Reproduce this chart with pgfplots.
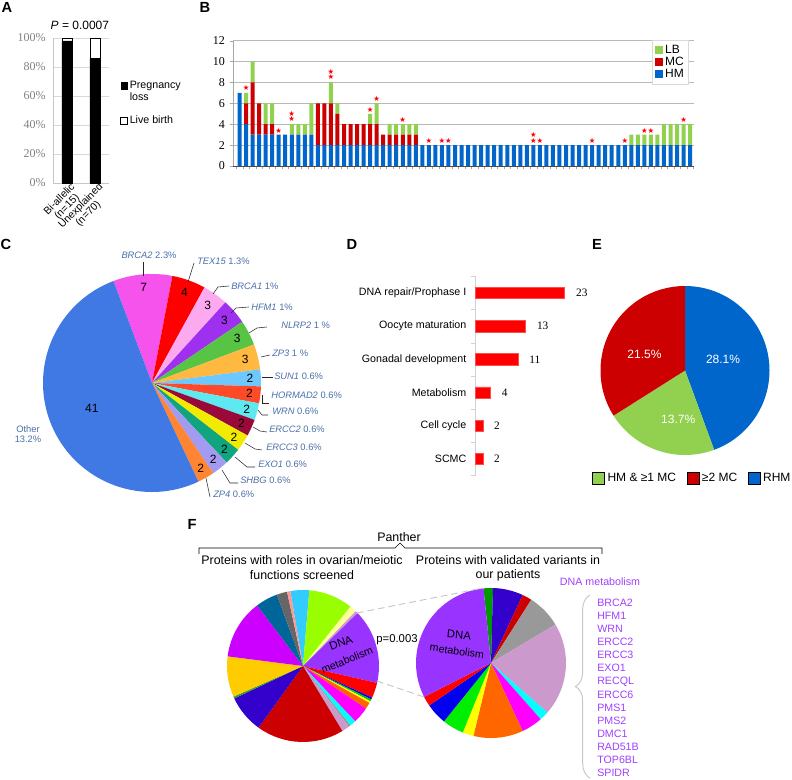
\documentclass[border=0pt]{standalone}
\usepackage{pgfplots}
\pgfplotsset{compat=1.18}
\usepackage{pgfplotstable}
\usepackage{fontspec}
\setmainfont{Liberation Sans}
\newfontfamily\tnr{Liberation Serif}
\newfontfamily\djv{DejaVu Sans}
\usetikzlibrary{decorations.pathreplacing}
\pgfplotsset{/pgf/number format/assume math mode=true}

\definecolor{hmB}{HTML}{0066CC}
\definecolor{mcB}{HTML}{CC0000}
\definecolor{lbB}{HTML}{92D050}
\definecolor{lblC}{HTML}{4A6FA8}
\definecolor{dnaP}{HTML}{A040FF}
% panel C slices
\definecolor{cBRCA2}{HTML}{F553EC}
\definecolor{cTEX15}{HTML}{FF0000}
\definecolor{cBRCA1}{HTML}{FCA9F0}
\definecolor{cHFM1}{HTML}{A030F0}
\definecolor{cNLRP2}{HTML}{58C445}
\definecolor{cZP3}{HTML}{FFB840}
\definecolor{cSUN1}{HTML}{6CC8FF}
\definecolor{cHORMAD2}{HTML}{FF4A2A}
\definecolor{cWRN}{HTML}{5EE8EF}
\definecolor{cERCC2}{HTML}{990A3A}
\definecolor{cERCC3}{HTML}{F0EB00}
\definecolor{cEXO1}{HTML}{10A57E}
\definecolor{cSHBG}{HTML}{A39AF2}
\definecolor{cZP4}{HTML}{FF8533}
\definecolor{cOther}{HTML}{4079E4}
% panel F slices
\definecolor{f01}{HTML}{33CCFF}
\definecolor{f02}{HTML}{99FF00}
\definecolor{f03}{HTML}{FFFF99}
\definecolor{f04}{HTML}{CC99CC}
\definecolor{f05}{HTML}{9933FF}
\definecolor{f06}{HTML}{FF0000}
\definecolor{f07}{HTML}{0000FF}
\definecolor{f08}{HTML}{00CC00}
\definecolor{f09}{HTML}{FFFF00}
\definecolor{f10}{HTML}{FF6600}
\definecolor{f11}{HTML}{FF00FF}
\definecolor{f12}{HTML}{00FFFF}
\definecolor{f13}{HTML}{999999}
\definecolor{f14}{HTML}{CC0000}
\definecolor{f15}{HTML}{3300CC}
\definecolor{f16}{HTML}{339933}
\definecolor{f17}{HTML}{FFCC00}
\definecolor{f18}{HTML}{CC00FF}
\definecolor{f19}{HTML}{006699}
\definecolor{f20}{HTML}{666666}
\definecolor{f21}{HTML}{FF9999}
\definecolor{f22}{HTML}{009900}
\definecolor{f23}{HTML}{00EE00}
\definecolor{f24}{HTML}{0000EE}

% pie wedges inside an axis: start angle, degrees per unit, radius (pt), list value/colour/label radius
\newcommand{\drawpie}[4]{%
  \xdef\pieang{#1}%
  \foreach \val/\col/\fac in {#4}{%
    \pgfmathsetmacro\pieend{\pieang-\val*#2}%
    \pgfmathsetmacro\piemid{(\pieang+\pieend)/2}%
    \pgfmathsetmacro\pielr{\fac*#3}%
    \edef\piecmd{\noexpand\fill[\col] (axis cs:0,0) -- ++(\pieang:#3pt) arc[start angle=\pieang, end angle=\pieend, radius=#3pt] -- cycle;}%
    \piecmd
    \ifdim\fac pt>0pt
      \edef\piecmd{\noexpand\path (axis cs:0,0) ++(\piemid:\pielr pt) node[pielbl] {\val};}%
      \piecmd
    \fi
    \xdef\pieang{\pieend}%
  }%
}

\pgfplotstableread{
x hm mc lb
1 7 0 0
2 4 2 1
3 3 5 2
4 3 3 0
5 3 1 2
6 3 1 2
7 3 0 0
8 3 0 0
9 3 0 1
10 3 0 1
11 3 0 1
12 3 0 3
13 2 4 0
14 2 4 0
15 2 4 2
16 2 3 1
17 2 2 0
18 2 2 0
19 2 2 0
20 2 2 0
21 2 2 1
22 2 2 2
23 2 1 0
24 2 1 1
25 2 1 1
26 2 1 1
27 2 1 1
28 2 1 1
29 2 0 0
30 2 0 0
31 2 0 0
32 2 0 0
33 2 0 0
34 2 0 0
35 2 0 0
36 2 0 0
37 2 0 0
38 2 0 0
39 2 0 0
40 2 0 0
41 2 0 0
42 2 0 0
43 2 0 0
44 2 0 0
45 2 0 0
46 2 0 0
47 2 0 0
48 2 0 0
49 2 0 0
50 2 0 0
51 2 0 0
52 2 0 0
53 2 0 0
54 2 0 0
55 2 0 0
56 2 0 0
57 2 0 0
58 2 0 0
59 2 0 0
60 2 0 0
61 2 0 1
62 2 0 1
63 2 0 1
64 2 0 1
65 2 0 1
66 2 0 2
67 2 0 2
68 2 0 2
69 2 0 2
70 2 0 2
}\dataB

\begin{document}
\begin{tikzpicture}
\useasboundingbox (0pt,0pt) rectangle (594pt,585pt);

% ---------------- A
\begin{axis}[at={(39.75pt,447.75pt)}, anchor=south west, scale only axis,
  width=42pt, height=108.75pt, ybar stacked, bar width=7.5pt,
  xmin=-0.5, xmax=1.5, ymin=0, ymax=100, clip=false,
  axis x line*=bottom, axis y line*=left, axis line style={draw=gray!45},
  ytick={0,20,...,100}, yticklabel={\pgfmathprintnumber{\tick}\%},
  yticklabel style={font=\tnr\fontsize{9}{10}\selectfont, text=gray, xshift=-2pt},
  ymajorgrids, grid style={draw=gray!30}, major tick length=0pt,
  xtick={0,1}, xticklabels={{Bi-allelic\\(n=15)},{Unexplained\\(n=70)}},
  xticklabel style={font=\fontsize{7.8}{8}\selectfont, rotate=45, anchor=north east, align=center, inner sep=1pt, xshift=3pt},
  title={\textit{P} = 0.0007}, title style={at={(0.48,1)}, anchor=south, font=\fontsize{9}{10}\selectfont, yshift=-3pt},
  legend style={at={(1.2,0.72)}, anchor=north west, draw=none, fill=none, font=\fontsize{8}{9.5}\selectfont, row sep=7pt, inner sep=0pt, nodes={align=left, inner sep=1.5pt}},
  legend cell align=left,
  legend image code/.code={\draw[#1, draw=black, line width=0.5pt] (0pt,-2.5pt) rectangle (5pt,2.5pt);}]
\addplot[fill=black, draw=black,
  legend image code/.code={\path (0pt,-7.25pt); \draw[fill=black] (0pt,2.25pt) rectangle (5pt,7.25pt);}]
  coordinates {(0,98) (1,85.7)};
\addplot[fill=white, draw=black] coordinates {(0,2) (1,14.3)};
\legend{Pregnancy\\loss, Live birth}
\end{axis}

% ---------------- B
\begin{axis}[at={(174.75pt,460.5pt)}, anchor=south west, scale only axis,
  width=345.75pt, height=94pt, ybar stacked, bar width=3pt,
  xmin=0, xmax=70.6, ymin=0, ymax=12, ytick={0,2,...,12},
  axis x line*=bottom, axis y line*=left,
  x axis line style={draw=black!70}, y axis line style={draw=gray!70},
  ymajorgrids, grid style={draw=gray!55},
  xtick={0.5,1.5,...,70.5}, xticklabels={},
  tick align=outside, major tick length=2.5pt, tick style={draw=gray!70},
  yticklabel style={font=\tnr\fontsize{9}{10}\selectfont},
  legend style={at={(0.989,1.005)}, anchor=north east, draw=gray!30, fill=white,
    font=\fontsize{9}{9}\selectfont, inner sep=2pt, row sep=-2pt, nodes={inner sep=1.6pt}},
  reverse legend, legend cell align=left,
  legend image code/.code={\fill[#1] (1pt,-3.2pt) rectangle (7pt,3.2pt);}]
\addplot[fill=hmB, draw=none] table[x=x, y=hm] {\dataB};
\addplot[fill=mcB, draw=none] table[x=x, y=mc] {\dataB};
\addplot[fill=lbB, draw=none] table[x=x, y=lb] {\dataB};
\legend{HM, MC, LB}
\end{axis}
\begin{axis}[at={(174.75pt,460.5pt)}, anchor=south west, scale only axis,
  width=345.75pt, height=94pt, xmin=0, xmax=70.6, ymin=0, ymax=12, hide axis, clip=false]
\addplot[only marks, mark=text, text mark={\color{red}\djv\fontsize{5.5}{5.5}\selectfont ★}] coordinates {
  (2,7.45) (7,3.4) (9,4.5) (9,5.0) (15,8.5) (15,9.05) (21,5.35) (22,6.45) (26,4.4)
  (30,2.45) (32,2.45) (33,2.45) (46,2.45) (46,2.95) (47,2.45) (55,2.45) (60,2.45)
  (63,3.35) (64,3.35) (69,4.4)};
\end{axis}

% ---------------- C
\tikzset{pielbl/.style={font=\fontsize{9}{10}\selectfont, text=black, inner sep=0pt}}
\begin{axis}[at={(114pt,297.75pt)}, anchor=center, scale only axis, width=163.5pt, height=163.5pt,
  xmin=-1, xmax=1, ymin=-1, ymax=1, hide axis, clip=false]
\drawpie{110.7}{4.5}{81.75}{7/cBRCA2/0.88, 4/cTEX15/0.88, 3/cBRCA1/0.88, 3/cHFM1/0.88, 3/cNLRP2/0.88, 3/cZP3/0.88, 2/cSUN1/0.9, 2/cHORMAD2/0.9, 2/cWRN/0.9, 2/cERCC2/0.9, 2/cERCC3/0.9, 2/cEXO1/0.9, 2/cSHBG/0.9, 2/cZP4/0.9, 41/cOther/0.6}
\end{axis}

% ---------------- D
\begin{axis}[at={(356.25pt,228.3pt)}, anchor=south west, scale only axis,
  width=87.75pt, height=149.4pt, xbar, bar width=8.5pt,
  xmin=0, xmax=30, ymin=-0.5, ymax=5.5, y dir=reverse, clip=false,
  axis x line=none, axis y line*=left, axis line style={draw=gray!35},
  ytick={0,...,5},
  yticklabels={DNA repair/Prophase I, Oocyte maturation, Gonadal development, Metabolism, Cell cycle, SCMC},
  yticklabel style={font=\fontsize{8}{9}\selectfont, xshift=-3pt},
  major tick length=0pt, minor ytick={-0.5,0.5,...,5.5}, minor tick length=3pt,
  tick align=outside, minor tick style={draw=gray!35},
  nodes near coords, nodes near coords style={font=\tnr\fontsize{8.5}{10}\selectfont, anchor=west, xshift=5pt, text=black}]
\addplot[fill=red, draw=red!70] coordinates {(23,0) (13,1) (11,2) (4,3) (2,4) (2,5)};
\end{axis}

% ---------------- E
\tikzset{pielbl/.style={}}
\begin{axis}[at={(513.75pt,307.125pt)}, anchor=center, scale only axis, width=126.75pt, height=126.75pt,
  xmin=-1, xmax=1, ymin=-1, ymax=1, hide axis, clip=false,
  legend style={at={(-0.05,-0.136)}, anchor=west, draw=none, fill=none, legend columns=3,
    font=\fontsize{9}{10}\selectfont, inner sep=0pt, /tikz/every even column/.append style={column sep=6pt}},
  legend image code/.code={\fill[#1] (0pt,-4.5pt) rectangle (9pt,4.5pt);}]
\drawpie{90}{5.6872}{63.375}{28.1/hmB/0, 13.7/lbB/0, 21.5/mcB/0}
\node[text=white, font=\fontsize{9}{10}\selectfont] at (axis cs:0.45,0.13) {28.1\%};
\node[text=white, font=\fontsize{9}{10}\selectfont] at (axis cs:-0.48,0.19) {21.5\%};
\node[text=white, font=\fontsize{9}{10}\selectfont] at (axis cs:-0.08,-0.58) {13.7\%};
\addlegendimage{fill=lbB}\addlegendentry{HM \& ≥1 MC}
\addlegendimage{fill=mcB}\addlegendentry{≥2 MC}
\addlegendimage{fill=hmB}\addlegendentry{RHM}
\end{axis}

% ---------------- F
\begin{axis}[at={(227.25pt,85.5pt)}, anchor=center, scale only axis, width=114pt, height=114pt,
  xmin=-1, xmax=1, ymin=-1, ymax=1, hide axis, clip=false]
\drawpie{99.6}{1}{57}{14.4/f01/0, 33.9/f02/0, 5.2/f03/0, 2.0/f04/0, 57/f05/0, 11.7/f06/0, 1.5/f07/0, 1.5/f08/0, 1.5/f09/0, 5/f10/0, 12.6/f11/0, 4.7/f12/0, 1.5/f13/0, 5.9/f04/0, 67/f14/0, 28.9/f15/0, 1.5/f16/0, 31.1/f17/0, 45.5/f18/0, 17.1/f19/0, 8/f20/0, 2.5/f21/0}
\end{axis}
\begin{axis}[at={(368.25pt,87.75pt)}, anchor=center, scale only axis, width=112.5pt, height=112.5pt,
  xmin=-1, xmax=1, ymin=-1, ymax=1, hide axis, clip=false]
\drawpie{95.7}{1}{56.25}{7.2/f22/0, 23.5/f15/0, 7.5/f14/0, 26.7/f13/0, 72.2/f04/0, 7.2/f12/0, 16.5/f11/0, 38.5/f10/0, 8.5/f09/0, 16.8/f23/0, 16.6/f24/0, 7.6/f06/0, 111.2/f05/0}
\end{axis}

% ---------------- annotations in pixel units
\begin{scope}[x=0.75pt, y=-0.75pt, shift={(0pt,585pt)}]
\tikzset{pl/.style={font=\bfseries\fontsize{11}{12}\selectfont, inner sep=0pt},
  lbl/.style={anchor=west, inner sep=0pt, font=\fontsize{7}{8}\selectfont, text=lblC},
  ld/.style={draw=black!85, line width=0.4pt}}
\node[pl] at (7,7) {A};
\node[pl] at (205,7) {B};
\node[pl] at (6,244) {C};
\node[pl] at (352,244) {D};
\node[pl] at (597,244) {E};
\node[pl] at (192,524) {F};

% C labels
\node[lbl, anchor=center] at (149,255) {\textit{BRCA2} 2.3\%};
\node[lbl] at (197,261) {\textit{TEX15} 1.3\%};
\node[lbl] at (231,286) {\textit{BRCA1} 1\%};
\node[lbl] at (251,307) {\textit{HFM1} 1\%};
\node[lbl] at (281,325) {\textit{NLRP2} 1 \%};
\node[lbl] at (272,353) {\textit{ZP3} 1 \%};
\node[lbl] at (274,376) {\textit{SUN1} 0.6\%};
\node[lbl] at (271,395) {\textit{HORMAD2} 0.6\%};
\node[lbl] at (272,411) {\textit{WRN} 0.6\%};
\node[lbl] at (269,429) {\textit{ERCC2} 0.6\%};
\node[lbl] at (266,447) {\textit{ERCC3} 0.6\%};
\node[lbl] at (258,464) {\textit{EXO1} 0.6\%};
\node[lbl] at (240,480) {\textit{SHBG} 0.6\%};
\node[lbl] at (213,494) {\textit{ZP4} 0.6\%};
\node[lbl, anchor=center, align=center, font=\fontsize{7}{7.6}\selectfont] at (28,434) {Other\\13.2\%};
\draw[ld] (143,262) -- (143,276);
\draw[ld] (194,263) -- (188,282);
\draw[ld] (229,286) -- (218,287) -- (213,294);
\draw[ld] (249,307) -- (236,308) -- (231,313);
\draw[ld] (267,327) -- (257,328) -- (249,333);
\draw[ld] (270,355) -- (261,357);
\draw[ld] (273,377) -- (262,377);
\draw[ld] (269,403) -- (262,403) -- (262,395);
\draw[ld] (268,415) -- (262,415) -- (258,410);
\draw[ld] (267,432) -- (260,431) -- (253,427);
\draw[ld] (262,450) -- (255,449) -- (245,443);
\draw[ld] (255,467) -- (247,467) -- (235,457);
\draw[ld] (238,483) -- (230,483) -- (222,470);
\draw[ld] (210,497) -- (206,478);

% F texts
\node[font=\fontsize{9.3}{10}\selectfont] at (399,537) {Panther};
\draw[line width=0.5pt] (199,554) -- (199,548) -- (395,548) -- (400,543) -- (405,548) -- (602,548) -- (602,554);
\node[font=\fontsize{9.3}{10}\selectfont] at (302,560) {Proteins with roles in ovarian/meiotic};
\node[font=\fontsize{9.3}{10}\selectfont] at (302,575) {functions screened};
\node[font=\fontsize{9.3}{10}\selectfont] at (508,560) {Proteins with validated variants in};
\node[font=\fontsize{9.3}{10}\selectfont] at (508,575) {our patients};
\node[font=\fontsize{8.5}{10}\selectfont] at (397,640) {p=0.003};
\draw[gray!45, dashed, line width=0.7pt, dash pattern=on 5pt off 3pt] (357,613) -- (483,588);
\draw[gray!45, dashed, line width=0.7pt, dash pattern=on 5pt off 3pt] (377,681) -- (424,697);
\node[font=\fontsize{8.5}{10}\selectfont, rotate=20, inner sep=0pt] at (341,643) {DNA};
\node[font=\fontsize{8}{10}\selectfont, rotate=22, inner sep=0pt] at (347,660) {metabolism};
\node[font=\fontsize{8.5}{10}\selectfont, rotate=-5, inner sep=0pt] at (459,635) {DNA};
\node[font=\fontsize{8}{10}\selectfont, rotate=-8, inner sep=0pt] at (457,651) {metabolism};
\node[font=\fontsize{8}{10}\selectfont, text=dnaP] at (600,582) {DNA metabolism};
\foreach \g [count=\i from 0] in {BRCA2,HFM1,WRN,ERCC2,ERCC3,EXO1,RECQL,ERCC6,PMS1,PMS2,DMC1,RAD51B,TOP6BL,SPIDR}
  \node[font=\fontsize{8}{10}\selectfont, text=dnaP, anchor=west, inner sep=0pt] at (597,603+13.05*\i) {\g};
\draw[gray!45, line width=0.7pt, decorate, decoration={brace, amplitude=11pt}] (590,778) -- (590,595);
\end{scope}
\end{tikzpicture}
\end{document}
